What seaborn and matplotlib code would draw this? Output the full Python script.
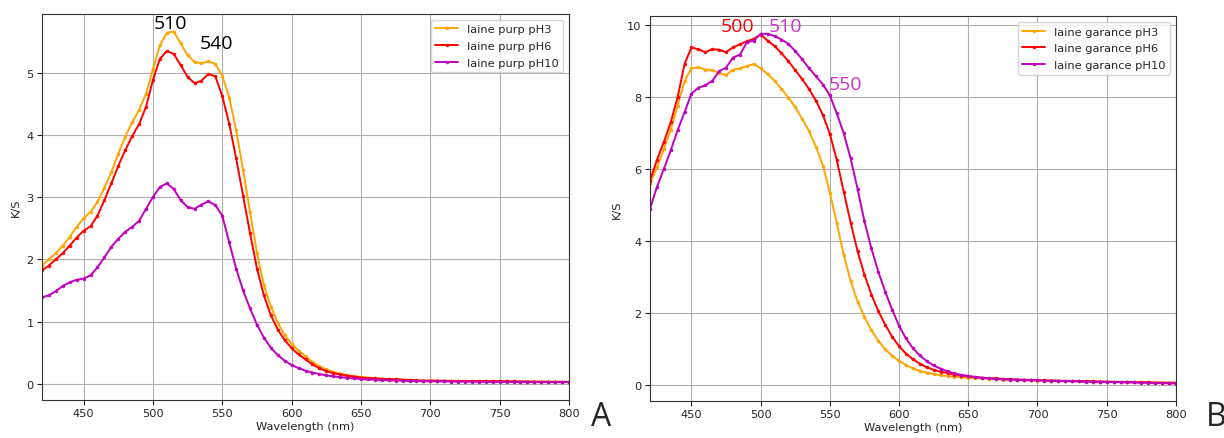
import numpy as np
import matplotlib
matplotlib.use("Agg")
import matplotlib.pyplot as plt
from matplotlib.ticker import MultipleLocator
import seaborn as sns

# wavelength grid (nm), 5 nm steps
wavelength = list(range(420, 805, 5))

# panel A - laine purp
purp_ph3 = [1.90, 2.00, 2.10, 2.22, 2.36, 2.52, 2.66, 2.76, 2.92, 3.15,
            3.40, 3.70, 3.97, 4.20, 4.40, 4.66, 5.06, 5.44, 5.64, 5.66,
            5.47, 5.28, 5.17, 5.15, 5.18, 5.14, 4.95, 4.60, 4.08, 3.43,
            2.76, 2.10, 1.58, 1.24, 0.98, 0.78, 0.64, 0.53, 0.44, 0.35,
            0.28, 0.23, 0.19, 0.16, 0.14, 0.12, 0.11, 0.10, 0.09, 0.08,
            0.075, 0.07, 0.065, 0.06, 0.055, 0.05, 0.05,
            0.048, 0.047, 0.046, 0.045, 0.044, 0.043, 0.042, 0.041, 0.040, 0.039,
            0.038, 0.037, 0.036, 0.035, 0.034, 0.033, 0.032, 0.031, 0.030, 0.030]
purp_ph6 = [1.82, 1.90, 2.00, 2.10, 2.22, 2.35, 2.46, 2.53, 2.70, 2.95,
            3.22, 3.50, 3.75, 3.98, 4.17, 4.45, 4.88, 5.22, 5.35, 5.30,
            5.12, 4.93, 4.83, 4.87, 4.98, 4.94, 4.62, 4.18, 3.62, 3.02,
            2.42, 1.85, 1.42, 1.10, 0.87, 0.70, 0.57, 0.47, 0.39, 0.31,
            0.25, 0.20, 0.17, 0.15, 0.13, 0.115, 0.10, 0.09, 0.085, 0.08,
            0.075, 0.07, 0.065, 0.06, 0.055, 0.05, 0.05,
            0.048, 0.047, 0.046, 0.045, 0.044, 0.043, 0.042, 0.041, 0.040, 0.039,
            0.038, 0.037, 0.036, 0.035, 0.034, 0.033, 0.032, 0.031, 0.030, 0.030]
purp_ph10 = [1.39, 1.42, 1.49, 1.57, 1.63, 1.67, 1.69, 1.74, 1.87, 2.03,
             2.20, 2.33, 2.44, 2.52, 2.62, 2.81, 3.00, 3.16, 3.22, 3.13,
             2.95, 2.84, 2.81, 2.88, 2.93, 2.87, 2.70, 2.27, 1.85, 1.50,
             1.21, 0.95, 0.74, 0.58, 0.46, 0.37, 0.30, 0.25, 0.21, 0.18,
             0.155, 0.135, 0.12, 0.105, 0.095, 0.085, 0.075, 0.07, 0.065, 0.06,
             0.055, 0.05, 0.05, 0.045, 0.045, 0.04, 0.04,
             0.038, 0.037, 0.036, 0.035, 0.034, 0.033, 0.032, 0.032, 0.031, 0.030,
             0.030, 0.029, 0.029, 0.028, 0.028, 0.027, 0.027, 0.026, 0.026, 0.025]

# panel B - laine garance
gar_ph3 = [5.60, 6.05, 6.55, 7.10, 7.75, 8.45, 8.80, 8.83, 8.76, 8.76,
           8.66, 8.62, 8.76, 8.80, 8.86, 8.92, 8.80, 8.64, 8.46, 8.23,
           7.99, 7.72, 7.40, 7.05, 6.62, 6.10, 5.35, 4.50, 3.62, 2.90,
           2.32, 1.90, 1.53, 1.24, 1.00, 0.82, 0.68, 0.56, 0.47, 0.40,
           0.35, 0.31, 0.28, 0.26, 0.24, 0.22, 0.21, 0.20, 0.19, 0.18,
           0.17, 0.16, 0.15, 0.15, 0.14, 0.14, 0.13,
           0.13, 0.125, 0.12, 0.12, 0.115, 0.11, 0.11, 0.105, 0.10, 0.10,
           0.095, 0.09, 0.09, 0.085, 0.08, 0.08, 0.075, 0.075, 0.07, 0.07]
gar_ph6 = [5.68, 6.25, 6.75, 7.30, 8.00, 8.92, 9.38, 9.33, 9.25, 9.33,
           9.32, 9.25, 9.38, 9.47, 9.55, 9.62, 9.74, 9.57, 9.42, 9.22,
           9.00, 8.75, 8.50, 8.22, 7.90, 7.50, 6.98, 6.25, 5.38, 4.52,
           3.72, 3.07, 2.52, 2.06, 1.68, 1.35, 1.08, 0.88, 0.72, 0.60,
           0.50, 0.43, 0.38, 0.34, 0.30, 0.27, 0.25, 0.23, 0.21, 0.20,
           0.19, 0.18, 0.17, 0.16, 0.155, 0.15, 0.14,
           0.14, 0.13, 0.13, 0.12, 0.12, 0.115, 0.11, 0.11, 0.10, 0.10,
           0.095, 0.09, 0.09, 0.085, 0.08, 0.08, 0.075, 0.075, 0.07, 0.07]
gar_ph10 = [4.90, 5.50, 6.00, 6.52, 7.08, 7.58, 8.10, 8.26, 8.33, 8.45,
            8.72, 8.82, 9.10, 9.18, 9.52, 9.57, 9.76, 9.76, 9.70, 9.60,
            9.48, 9.28, 9.05, 8.80, 8.58, 8.35, 8.05, 7.55, 7.00, 6.30,
            5.45, 4.55, 3.80, 3.15, 2.60, 2.10, 1.65, 1.30, 1.03, 0.83,
            0.67, 0.55, 0.46, 0.39, 0.33, 0.29, 0.26, 0.23, 0.21, 0.19,
            0.18, 0.17, 0.16, 0.155, 0.15, 0.14, 0.14,
            0.13, 0.13, 0.12, 0.12, 0.11, 0.11, 0.105, 0.10, 0.10, 0.095,
            0.09, 0.085, 0.08, 0.08, 0.075, 0.07, 0.065, 0.06, 0.055, 0.05]

colors = ['orange', 'red', '#bf00bf']
labels_a = ['laine purp pH3', 'laine purp pH6', 'laine purp pH10']
labels_b = ['laine garance pH3', 'laine garance pH6', 'laine garance pH10']

sns.set_style("ticks")
plt.rcParams['font.size'] = 8.2
plt.rcParams['axes.edgecolor'] = '#333333'
plt.rcParams['xtick.major.size'] = 3.5
plt.rcParams['ytick.major.size'] = 3.5

fig = plt.figure(figsize=(12.24, 4.39), dpi=100)
ax_a = fig.add_axes([0.0343, 0.0872, 0.4306, 0.8786])
ax_b = fig.add_axes([0.5310, 0.0843, 0.4297, 0.8763])


def draw_panel(ax, series, labels, ystep):
    for vals, col, lab in zip(series, colors, labels):
        sns.lineplot(x=wavelength, y=vals, ax=ax, color=col, label=lab,
                     marker='.', markersize=4, markeredgecolor=col,
                     markeredgewidth=0.5, linewidth=1.4)
    ax.set_xlim(420, 800)
    ax.xaxis.set_major_locator(MultipleLocator(50))
    ax.yaxis.set_major_locator(MultipleLocator(ystep))
    ax.grid(True, color='#b0b0b0', linewidth=0.8)
    ax.set_axisbelow(True)
    ax.set_xlabel('Wavelength (nm)', fontsize=8.2, labelpad=2)
    ax.set_ylabel('K/S', fontsize=8.2, labelpad=4)
    ax.tick_params(labelsize=8.2, pad=2.5)
    ax.legend(loc='upper right', fontsize=8.2, framealpha=0.8,
              labelspacing=0.6)


draw_panel(ax_a, [purp_ph3, purp_ph6, purp_ph10], labels_a, 1)
draw_panel(ax_b, [gar_ph3, gar_ph6, gar_ph10], labels_b, 2)

ann_font = dict(family=['Open Sans', 'DejaVu Sans'], fontsize=14,
                ha='center', va='center')
ax_a.text(513, 5.80, '510', color='black', **ann_font)
ax_a.text(545.5, 5.48, '540', color='black', **ann_font)
ax_b.text(483, 9.98, '500', color='red', **ann_font)
ax_b.text(518, 9.98, '510', color='#cc33cc', **ann_font)
ax_b.text(561, 8.37, '550', color='#cc33cc', **ann_font)

fig.text(601 / 1224, 1 - 418 / 439, 'A', fontsize=23,
         family=['Open Sans', 'DejaVu Sans'], ha='center', va='center')
fig.text(1216 / 1224, 1 - 418 / 439, 'B', fontsize=23,
         family=['Open Sans', 'DejaVu Sans'], ha='center', va='center')

fig.savefig('out.png', dpi=100)
